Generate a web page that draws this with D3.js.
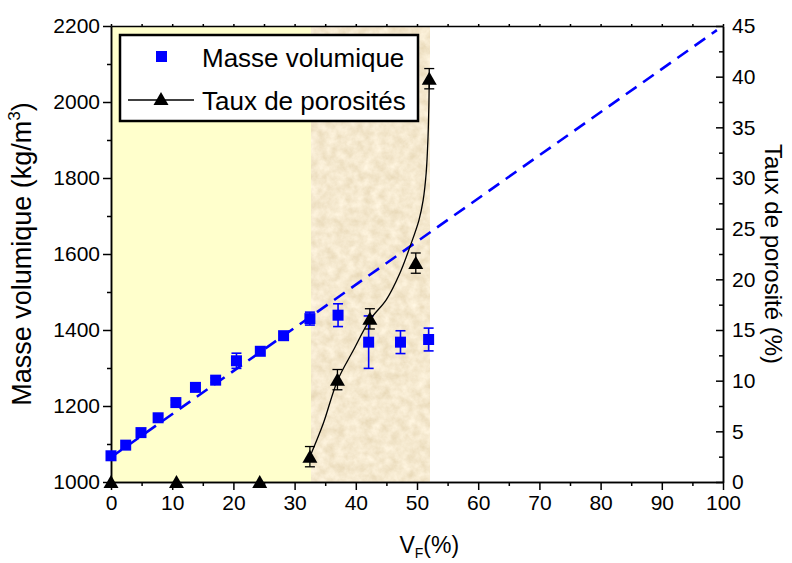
<!DOCTYPE html>
<html>
<head>
<meta charset="utf-8">
<script src="https://cdn.jsdelivr.net/npm/d3@7"></script>
<style>
  html, body { margin: 0; padding: 0; background: #fff; }
  svg { display: block; font-family: "Liberation Sans", Arial, sans-serif; }
</style>
</head>
<body>
<svg id="chart" width="792" height="563"></svg>
<script>
// ---- data ----
const vfDensity = [0, 2.4, 4.9, 7.7, 10.6, 13.8, 17.1, 20.5, 24.4, 28.2, 32.5, 37.1, 42.1, 47.3, 51.9];
const density    = [1069, 1097, 1130, 1169, 1209, 1249, 1268, 1319, 1344, 1385, 1430, 1439, 1368, 1368, 1375];
const densityErr = [0, 0, 0, 6, 6, 0, 6, 20, 0, 0, 17, 30, 69, 30, 30];

const vfPorosity  = [0, 10.7, 24.3, 32.5, 37.0, 42.3, 49.8, 52.0];
const porosity    = [0, 0, 0, 2.5, 10.1, 16.1, 21.6, 39.8];
const porosityErr = [0, 0, 0, 1, 1, 1, 1, 1];

const curveVf  = [32.5, 34.7, 37.0, 39.6, 42.3, 45.0, 47.2, 48.9, 50.3, 51.0, 51.5, 51.8, 51.95, 52.0];
const curvePor = [2.5, 5.8, 10.0, 13.0, 16.0, 18.0, 20.6, 23.3, 25.8, 27.8, 30.5, 34.0, 37.5, 39.8];

const fitVf = [0, 99];
const fitDensity = [1065, 2189];

const zoneBounds = [0, 32.7, 52];

const xTicks = [0, 10, 20, 30, 40, 50, 60, 70, 80, 90, 100];
const yLeftTicks = [1000, 1200, 1400, 1600, 1800, 2000, 2200];
const yRightTicks = [0, 5, 10, 15, 20, 25, 30, 35, 40, 45];

// ---- layout ----
const W = 792, H = 563;
const m = {left: 111, right: 69, top: 26, bottom: 81};
const iw = W - m.left - m.right, ih = H - m.top - m.bottom;

const svg = d3.select("#chart");
const defs = svg.append("defs");

// sandy texture
const f = defs.append("filter").attr("id", "sand")
  .attr("x", 0).attr("y", 0).attr("width", 1).attr("height", 1);
f.append("feTurbulence").attr("type", "fractalNoise")
  .attr("baseFrequency", 0.11).attr("numOctaves", 4).attr("seed", 7).attr("result", "n");
f.append("feColorMatrix").attr("type", "matrix").attr("in", "n")
  .attr("values", "0.26 0 0 0 0.78  0.30 0 0 0 0.66  0.36 0 0 0 0.44  0 0 0 0 1");

const x = d3.scaleLinear().domain([0, 100]).range([m.left, m.left + iw]);
const yL = d3.scaleLinear().domain([1000, 2200]).range([m.top + ih, m.top]);
const yR = d3.scaleLinear().domain([0, 45]).range([m.top + ih, m.top]);

// zones
svg.append("rect")
  .attr("x", x(zoneBounds[0]) + 1).attr("y", m.top + 1)
  .attr("width", x(zoneBounds[1]) - x(zoneBounds[0]) - 1).attr("height", ih - 1)
  .attr("fill", "#ffffcc");
svg.append("rect")
  .attr("x", x(zoneBounds[1])).attr("y", m.top + 1)
  .attr("width", x(zoneBounds[2]) - x(zoneBounds[1])).attr("height", ih - 1)
  .attr("filter", "url(#sand)").attr("fill", "#e6d3ae");

// axes
const fs = 21;
const fmt = d3.format("d");
svg.append("g").attr("transform", `translate(0,${m.top + ih})`)
  .call(d3.axisBottom(x).tickValues(xTicks).tickFormat(fmt).tickSize(8).tickPadding(5).tickSizeOuter(0));
svg.append("g").attr("transform", `translate(0,${m.top + ih})`)
  .call(d3.axisBottom(x).tickValues(d3.range(5, 100, 10)).tickSize(4).tickFormat("").tickSizeOuter(0));
svg.append("g").attr("transform", `translate(0,${m.top})`)
  .call(d3.axisTop(x).tickValues(d3.range(0, 101, 5)).tickSize(2).tickFormat("").tickSizeOuter(0));

svg.append("g").attr("transform", `translate(${m.left},0)`)
  .call(d3.axisLeft(yL).tickValues(yLeftTicks).tickFormat(fmt).tickSize(8).tickPadding(3).tickSizeOuter(0));
svg.append("g").attr("transform", `translate(${m.left},0)`)
  .call(d3.axisLeft(yL).tickValues(d3.range(1100, 2200, 200)).tickSize(4).tickFormat("").tickSizeOuter(0));

svg.append("g").attr("transform", `translate(${m.left + iw},0)`)
  .call(d3.axisRight(yR).tickValues(yRightTicks).tickFormat(fmt).tickSize(-7).tickPadding(9).tickSizeOuter(0));
svg.append("g").attr("transform", `translate(${m.left + iw},0)`)
  .call(d3.axisRight(yR).tickValues(d3.range(2.5, 45, 5)).tickSize(-4).tickFormat("").tickSizeOuter(0));

svg.selectAll(".domain, .tick line").attr("stroke", "#000").attr("stroke-width", 1.5);
svg.selectAll(".tick text").attr("font-size", fs).attr("fill", "#000")
  .style("font-family", '"Liberation Sans", Arial, sans-serif');

// axis titles
svg.append("text")
  .attr("transform", `translate(31,${m.top + ih / 2}) rotate(-90)`)
  .attr("text-anchor", "middle").attr("font-size", 27)
  .call(t => {
    t.append("tspan").text("Masse volumique (kg/m");
    t.append("tspan").attr("font-size", 17).attr("dy", -11).text("3");
    t.append("tspan").attr("dy", 11).text(")");
  });
svg.append("text")
  .attr("transform", `translate(765,${m.top + ih / 2}) rotate(90)`)
  .attr("text-anchor", "middle").attr("font-size", 24)
  .text("Taux de porosité (%)");
svg.append("text")
  .attr("x", x(52)).attr("y", 553).attr("text-anchor", "middle").attr("font-size", 23)
  .call(t => {
    t.append("tspan").text("V");
    t.append("tspan").attr("font-size", 14).attr("dy", 5).text("F");
    t.append("tspan").attr("dy", -5).text("(%)");
  });

// fit line
svg.append("line")
  .attr("x1", x(fitVf[0])).attr("y1", yL(fitDensity[0]))
  .attr("x2", x(fitVf[1])).attr("y2", yL(fitDensity[1]))
  .attr("stroke", "#0000ff").attr("stroke-width", 2.6).attr("stroke-dasharray", "13,8");

// density error bars + squares
const dens = vfDensity.map((v, i) => ({x: v, y: density[i], e: densityErr[i]}));
const gd = svg.append("g");
dens.filter(d => d.e > 0).forEach(d => {
  const cx = x(d.x);
  gd.append("line").attr("x1", cx).attr("x2", cx).attr("y1", yL(d.y - d.e)).attr("y2", yL(d.y + d.e))
    .attr("stroke", "#0000ff").attr("stroke-width", 1.6);
  [d.y - d.e, d.y + d.e].forEach(v => gd.append("line")
    .attr("x1", cx - 5).attr("x2", cx + 5).attr("y1", yL(v)).attr("y2", yL(v))
    .attr("stroke", "#0000ff").attr("stroke-width", 1.6));
});
gd.selectAll("rect").data(dens).join("rect")
  .attr("x", d => x(d.x) - 5.5).attr("y", d => yL(d.y) - 5.5)
  .attr("width", 11).attr("height", 11).attr("fill", "#0000ff");

// porosity curve
const curveData = curveVf.map((v, i) => [v, curvePor[i]]);
svg.append("path").datum(curveData)
  .attr("d", d3.line().x(d => x(d[0])).y(d => yR(d[1])).curve(d3.curveCatmullRom))
  .attr("fill", "none").attr("stroke", "#000").attr("stroke-width", 1.3);

// porosity error bars + triangles
const por = vfPorosity.map((v, i) => ({x: v, y: porosity[i], e: porosityErr[i]}));
const gp = svg.append("g");
por.filter(d => d.e > 0).forEach(d => {
  const cx = x(d.x);
  gp.append("line").attr("x1", cx).attr("x2", cx).attr("y1", yR(d.y - d.e)).attr("y2", yR(d.y + d.e))
    .attr("stroke", "#000").attr("stroke-width", 1.3);
  [d.y - d.e, d.y + d.e].forEach(v => gp.append("line")
    .attr("x1", cx - 5).attr("x2", cx + 5).attr("y1", yR(v)).attr("y2", yR(v))
    .attr("stroke", "#000").attr("stroke-width", 1.3));
});
const tri = "M0,-7L7.5,6L-7.5,6Z";
gp.selectAll("path.tri").data(por).join("path").attr("class", "tri")
  .attr("d", tri).attr("transform", d => `translate(${x(d.x)},${yR(d.y)})`).attr("fill", "#000");

// legend
const lg = svg.append("g");
lg.append("rect").attr("x", 120).attr("y", 35).attr("width", 298).attr("height", 86)
  .attr("fill", "#fff").attr("stroke", "#000").attr("stroke-width", 2.5);
lg.append("rect").attr("x", 156).attr("y", 51).attr("width", 11).attr("height", 11).attr("fill", "#0000ff");
lg.append("text").attr("x", 202).attr("y", 67).attr("font-size", 26).text("Masse volumique");
lg.append("line").attr("x1", 128).attr("x2", 194).attr("y1", 100).attr("y2", 100)
  .attr("stroke", "#000").attr("stroke-width", 1.3);
lg.append("path").attr("d", tri).attr("transform", "translate(161,99)").attr("fill", "#000");
lg.append("text").attr("x", 202).attr("y", 110).attr("font-size", 26).text("Taux de porosités");
</script>
</body>
</html>
